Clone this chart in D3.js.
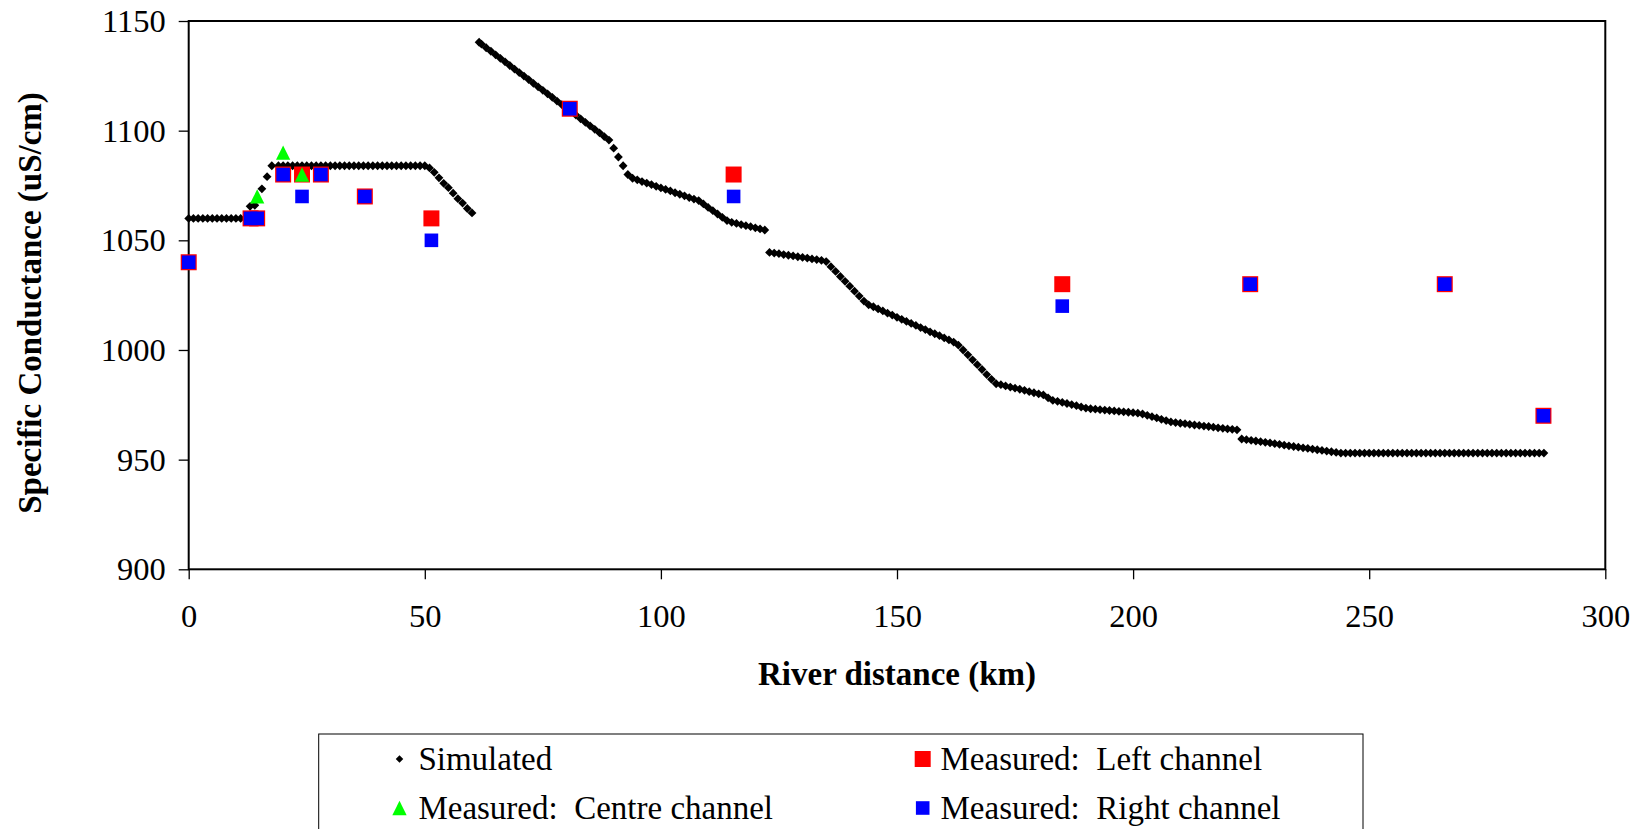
<!DOCTYPE html>
<html><head><meta charset="utf-8">
<script src="https://cdn.jsdelivr.net/npm/d3@7"></script>
<style>
body{margin:0;background:#fff}
svg{display:block;background:#fff}
text{font-family:"Liberation Serif","Times New Roman",serif;fill:#000}
</style>
</head><body>
<svg id="chart" width="1644" height="829"></svg>
<script>
// ---------- data ----------
const xTicks = [0, 50, 100, 150, 200, 250, 300];
const yTicks = [900, 950, 1000, 1050, 1100, 1150];

// Simulated specific conductance [river km, uS/cm]
const simulated = [
 [0,1060],[1,1060],[2,1060],[3,1060],[4,1060],[5,1060],[6,1060],[7,1060],[8,1060],[9,1060],[10,1060],[11,1060],
 [13,1065.5],[14,1066],[15.5,1073.5],[16.6,1079],[17.6,1084],
 [19,1084],[20,1084],[21,1084],[22,1084],[23,1084],[24,1084],[25,1084],[26,1084],[27,1084],[28,1084],[29,1084],[30,1084],
 [31,1084],[32,1084],[33,1084],[34,1084],[35,1084],[36,1084],[37,1084],[38,1084],[39,1084],[40,1084],[41,1084],[42,1084],
 [43,1084],[44,1084],[45,1084],[46,1084],[47,1084],[48,1084],[49,1084],[50,1084],
 [51,1083],[52,1081],[53,1078.5],[54,1076],[55,1074],[56,1071.5],[57,1069],[58,1067],[59,1064.5],[60,1062.5],
 [61.5,1140.3],[62,1139.5],[63,1137.8],[64,1136.2],[65,1134.6],[66,1133],[67,1131.4],[68,1129.7],[69,1128.1],[70,1126.5],
 [71,1124.9],[72,1123.3],[73,1121.6],[74,1120],[75,1118.4],[76,1116.8],[77,1115.2],[78,1113.5],[79,1111.9],[80,1110.3],
 [81,1108.7],[82,1107.1],[83,1105.4],[84,1103.8],[85,1102.2],[86,1100.6],[87,1099],[88,1097.3],[89,1095.7],
 [90,1092],[91,1088],[92,1084],[93,1080],
 [94,1078.3],[95,1077.6],[96,1076.8],[97,1076.1],[98,1075.4],[99,1074.6],[100,1073.9],[101,1073.2],[102,1072.5],[103,1071.7],
 [104,1071],[105,1070.3],[106,1069.5],[107,1068.8],[108,1068.1],
 [109,1066.6],[110,1065],[111,1063.5],[112,1062],[113,1060.5],[114,1059],
 [115,1058.2],[116,1057.7],[117,1057.2],[118,1056.7],[119,1056.2],[120,1055.7],[121,1055.2],[122,1054.7],
 [123,1044.5],[124,1044.2],[125,1043.9],[126,1043.5],[127,1043.2],[128,1042.9],[129,1042.5],[130,1042.2],[131,1041.9],
 [132,1041.5],[133,1041.2],[134,1040.9],
 [135,1040.3],[136,1038],[137,1035.8],[138,1033.5],[139,1031.3],[140,1029.1],[141,1026.8],[142,1024.6],[143,1022.3],
 [144,1020.6],[145,1019.7],[146,1018.7],[147,1017.8],[148,1016.8],[149,1015.9],[150,1014.9],[151,1014],[152,1013],
 [153,1012.1],[154,1011.2],[155,1010.2],[156,1009.3],[157,1008.3],[158,1007.4],[159,1006.5],[160,1005.5],[161,1004.6],[162,1003.6],
 [163,1002.2],[164,1000],[165,997.8],[166,995.5],[167,993.3],[168,991.1],[169,988.8],[170,986.6],[171,984.6],
 [172,984.2],[173,983.6],[174,983.1],[175,982.6],[176,982.1],[177,981.6],[178,981],[179,980.5],[180,980],[181,979.5],
 [182,978.2],[183,977],
 [184,976.6],[185,976.1],[186,975.6],[187,975.1],[188,974.6],[189,974],[190,973.5],
 [191,973.2],[192,973],[193,972.8],[194,972.6],[195,972.4],[196,972.2],[197,972],[198,971.8],[199,971.6],[200,971.4],[201,971.2],
 [202,970.8],[203,970.2],[204,969.6],[205,969],[206,968.4],[207,967.8],[208,967.2],
 [209,966.9],[210,966.6],[211,966.4],[212,966.1],[213,965.8],[214,965.6],[215,965.3],[216,965.1],[217,964.8],[218,964.5],
 [219,964.3],[220,964],[221,963.8],[222,963.6],
 [223,959.4],[224,959.1],[225,958.8],[226,958.5],[227,958.2],[228,957.9],[229,957.6],[230,957.3],[231,957],[232,956.6],
 [233,956.3],[234,956],[235,955.7],[236,955.4],[237,955.1],[238,954.8],[239,954.5],[240,954.2],[241,953.9],[242,953.6],[243,953.3],
 [244,953],[245,953],[246,953],[247,953],[248,953],[249,953],[250,953],[251,953],[252,953],[253,953],[254,953],[255,953],
 [256,953],[257,953],[258,953],[259,953],[260,953],[261,953],[262,953],[263,953],[264,953],[265,953],[266,953],[267,953],
 [268,953],[269,953],[270,953],[271,953],[272,953],[273,953],[274,953],[275,953],[276,953],[277,953],[278,953],[279,953],
 [280,953],[281,953],[282,953],[283,953],[284,953],[285,953],[286,953],[287,953]
];

// Measured
const leftKm   = [0, 13.1, 14.5, 20, 24, 28, 37.3, 51.4, 80.7, 115.4, 185, 224.8, 266, 286.9];
const leftVal  = [1040, 1060, 1060, 1080, 1080, 1080, 1070, 1060, 1110, 1080, 1030, 1030, 1030, 970];
const centreKm = [14.5, 20, 24];
const centreVal= [1070, 1090, 1080];
const rightKm  = [0, 13.1, 14.5, 20, 24, 28, 37.3, 51.4, 80.7, 115.4, 185, 224.8, 266, 286.9];
const rightVal = [1040, 1060, 1060, 1080, 1070, 1080, 1070, 1050, 1110, 1070, 1020, 1030, 1030, 970];

const legendLabels = ["Simulated", "Measured:  Left channel", "Measured:  Centre channel", "Measured:  Right channel"];
const xTitle = "River distance (km)";
const yTitle = "Specific Conductance (uS/cm)";

// ---------- drawing ----------
const svg = d3.select("#chart");
const x = d3.scaleLinear().domain([0, 300]).range([188.7, 1605.3]);
const y = d3.scaleLinear().domain([900, 1150]).range([569.3, 21]);

const diamond = {draw(ctx, size){const r=Math.sqrt(size)/2;ctx.moveTo(0,-r);ctx.lineTo(r,0);ctx.lineTo(0,r);ctx.lineTo(-r,0);ctx.closePath();}};
const triangle = {draw(ctx, size){const s=Math.sqrt(size);ctx.moveTo(0,-s/2);ctx.lineTo(s/2,s/2);ctx.lineTo(-s/2,s/2);ctx.closePath();}};
const square = {draw(ctx, size){const s=Math.sqrt(size)/2;ctx.rect(-s,-s,2*s,2*s);}};

const symDiamond = d3.symbol().type(diamond).size(8.8*8.8);
const symDiamondLegend = d3.symbol().type(diamond).size(7.5*7.5);
const symTri = d3.symbol().type(triangle).size(14.3*14.3);
const symRed = d3.symbol().type(square).size(16*16);
const symBlue = d3.symbol().type(square).size(13.6*13.6);

// axes
const fs = 32.5;
const yAxis = svg.append("g").attr("transform", `translate(${x(0)},0)`)
  .call(d3.axisLeft(y).tickValues(yTicks).tickSize(10).tickSizeOuter(0).tickPadding(13).tickFormat(d3.format("d")));
const xAxis = svg.append("g").attr("transform", `translate(0,${y(900)})`)
  .call(d3.axisBottom(x).tickValues(xTicks).tickSize(10).tickSizeOuter(0).tickPadding(25).tickFormat(d3.format("d")));
[yAxis, xAxis].forEach(g => {
  g.select(".domain").remove();
  g.selectAll(".tick line").attr("stroke", "#000").attr("stroke-width", 1.3);
  g.selectAll(".tick text").attr("font-size", fs).attr("font-family", "Liberation Serif, serif").attr("fill", "#000");
});

// frame
svg.append("rect")
  .attr("x", x(0)).attr("y", y(1150))
  .attr("width", x(300) - x(0)).attr("height", y(900) - y(1150))
  .attr("fill", "none").attr("stroke", "#000").attr("stroke-width", 2);

// series
const plot = svg.append("g");
plot.selectAll("path.sim").data(simulated).join("path").attr("class","sim")
  .attr("d", symDiamond).attr("fill", "#000")
  .attr("transform", d => `translate(${x(d[0])},${y(d[1])})`);
plot.selectAll("path.left").data(leftKm.map((k,i)=>[k,leftVal[i]])).join("path").attr("class","left")
  .attr("d", symRed).attr("fill", "#ff0000")
  .attr("transform", d => `translate(${x(d[0])},${y(d[1])})`);
plot.selectAll("path.centre").data(centreKm.map((k,i)=>[k,centreVal[i]])).join("path").attr("class","centre")
  .attr("d", symTri).attr("fill", "#00ff00")
  .attr("transform", d => `translate(${x(d[0])},${y(d[1])})`);
plot.selectAll("path.right").data(rightKm.map((k,i)=>[k,rightVal[i]])).join("path").attr("class","right")
  .attr("d", symBlue).attr("fill", "#0000ff")
  .attr("transform", d => `translate(${x(d[0])},${y(d[1])})`);

// titles
svg.append("text").attr("x", (x(0)+x(300))/2).attr("y", 685)
  .attr("text-anchor", "middle").attr("font-size", 33).attr("font-weight", "bold").text(xTitle);
svg.append("text").attr("transform", "translate(41,303) rotate(-90)")
  .attr("text-anchor", "middle").attr("font-size", 33).attr("font-weight", "bold").text(yTitle);

// legend
svg.append("rect").attr("x", 318.7).attr("y", 734).attr("width", 1044.3).attr("height", 140)
  .attr("fill", "#fff").attr("stroke", "#000").attr("stroke-width", 1);
const legendItems = [
  {label: legendLabels[0], sym: symDiamondLegend, color: "#000", mx: 399.5, my: 759, tx: 418.4},
  {label: legendLabels[1], sym: symRed, color: "#ff0000", mx: 922.7, my: 759, tx: 940.5},
  {label: legendLabels[2], sym: symTri, color: "#00ff00", mx: 399.5, my: 808, tx: 418.4},
  {label: legendLabels[3], sym: symBlue, color: "#0000ff", mx: 922.7, my: 808, tx: 940.5}
];
const lg = svg.append("g");
legendItems.forEach(it => {
  lg.append("path").attr("d", it.sym).attr("fill", it.color).attr("transform", `translate(${it.mx},${it.my})`);
  lg.append("text").attr("x", it.tx).attr("y", it.my + 11).attr("font-size", 33)
    .style("white-space", "pre").text(it.label);
});
</script>
</body></html>
